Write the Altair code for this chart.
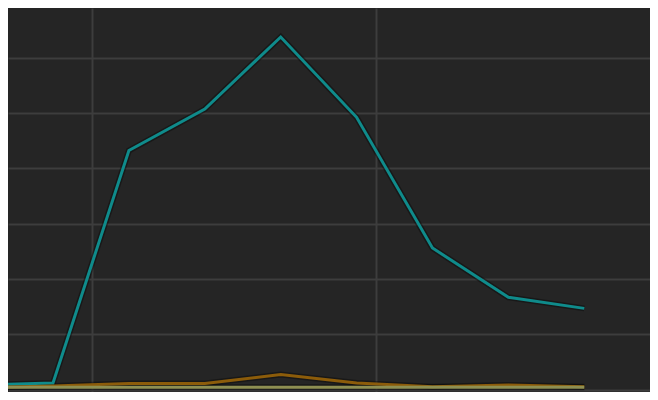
import altair as alt
import pandas as pd

# data (index of period, values per series)
period = [0, 1, 2, 3, 4, 5, 6, 7, 8]
teal_vals = [0.87, 1.24, 43.2, 50.7, 63.7, 49.2, 25.6, 16.7, 14.7]
orange_vals = [0.4, 0.67, 1.15, 1.15, 2.75, 1.24, 0.53, 0.85, 0.53]
olive_vals = [0.45, 0.45, 0.45, 0.45, 0.45, 0.45, 0.45, 0.45, 0.45]
series_names = ["A", "B", "C"]
series_colors = ["#0f8b8b", "#8c5c0a", "#8e8f52"]

x_grid = [1.514, 5.252]
y_grid = [0, 10, 20, 30, 40, 50, 60, 70]

rows = []
for name, vals in zip(series_names, [teal_vals, orange_vals, olive_vals]):
    for p, v in zip(period, vals):
        rows.append({"period": p, "value": v, "series": name})
df = pd.DataFrame(rows)

x_enc = alt.X("period:Q", scale=alt.Scale(domain=[0.407, 8.866], nice=False, zero=False),
              axis=alt.Axis(values=x_grid, labels=False, ticks=False, domain=False,
                            title=None, grid=True, gridColor="#3d3d3d", gridWidth=2))
y_enc = alt.Y("value:Q", scale=alt.Scale(domain=[-0.4, 68.94], nice=False, zero=False),
              axis=alt.Axis(values=y_grid, labels=False, ticks=False, domain=False,
                            title=None, grid=True, gridColor="#3d3d3d", gridWidth=2))

base = alt.Chart(df)

shadow = base.mark_line(clip=True, strokeWidth=6, color="#000000", opacity=0.35).encode(
    x=x_enc, y=y_enc, detail="series:N"
)
lines = base.mark_line(clip=True, strokeWidth=3).encode(
    x=x_enc, y=y_enc,
    color=alt.Color("series:N", scale=alt.Scale(domain=series_names, range=series_colors), legend=None),
    order=alt.Order("period:Q"),
)

chart = alt.layer(shadow, lines).properties(
    width=642, height=384,
    background="#252525",
    padding=0,
    autosize=alt.AutoSizeParams(type="none"),
).configure_view(stroke=None, fill="#252525")

chart.save("out.html", embed_options={"renderer": "svg", "actions": False})
